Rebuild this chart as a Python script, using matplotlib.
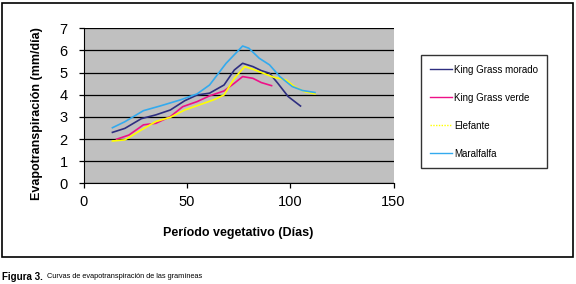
import matplotlib.pyplot as plt
from matplotlib.patches import Rectangle
from matplotlib.lines import Line2D

# data
morado_x = [14, 20, 28, 35, 42, 49, 55, 61, 68, 73, 77, 82, 86, 90, 94, 99, 105]
morado_y = [2.30, 2.48, 2.92, 3.09, 3.31, 3.73, 3.99, 4.07, 4.44, 5.12, 5.42, 5.27, 5.09, 4.97, 4.52, 3.92, 3.49]

verde_x = [16, 22, 29, 35, 42, 48, 55, 61, 68, 73, 77, 82, 86, 91]
verde_y = [1.99, 2.18, 2.64, 2.71, 3.01, 3.46, 3.69, 3.95, 4.17, 4.52, 4.82, 4.74, 4.55, 4.41]

elefante_x = [14, 20, 28, 35, 42, 49, 56, 63, 68, 73, 78, 82, 87, 92, 98, 102, 107, 112]
elefante_y = [1.91, 1.96, 2.41, 2.79, 2.98, 3.31, 3.54, 3.77, 3.99, 4.74, 5.27, 5.15, 4.97, 4.79, 4.67, 4.37, 4.14, 4.04]

maralfalfa_x = [14, 20, 29, 37, 47, 55, 61, 69, 77, 80, 85, 90, 95, 101, 106, 112]
maralfalfa_y = [2.51, 2.78, 3.28, 3.49, 3.77, 4.04, 4.44, 5.42, 6.20, 6.10, 5.65, 5.35, 4.82, 4.37, 4.19, 4.10]

labels = ["King Grass morado", "King Grass verde", "Elefante", "Maralfalfa"]
colors = ["#2e2e80", "#ee1188", "#ffff00", "#33aaee"]

W, H = 576, 284
fig = plt.figure(figsize=(W / 100, H / 100), dpi=100)
fig.patch.set_facecolor("white")

# outer frame
fig.patches.append(Rectangle((1.5 / W, 27 / H), 571 / W, 254.5 / H,
                             transform=fig.transFigure, fill=False,
                             edgecolor="black", linewidth=1.2))

ax = fig.add_axes([83.5 / W, 100.7 / H, 310 / W, 155 / H])
ax.set_facecolor("#c0c0c0")

series = [(morado_x, morado_y), (verde_x, verde_y),
          (elefante_x, elefante_y), (maralfalfa_x, maralfalfa_y)]
for (xs, ys), c in zip(series, colors):
    ax.plot(xs, ys, color=c, linewidth=1.2)

ax.set_xlim(0, 150)
ax.set_ylim(0, 7)
ax.set_xticks([0, 50, 100, 150])
ax.set_yticks(range(0, 8))
ax.grid(axis="y", color="black", linewidth=0.9)
ax.set_axisbelow(True)
for s in ["top", "right"]:
    ax.spines[s].set_visible(False)
ax.tick_params(direction="out", length=3.5, width=0.9, labelsize=10.5,
               colors="black")
ax.tick_params(axis="y", pad=8)
ax.tick_params(axis="x", pad=5)
for lab in ax.get_xticklabels() + ax.get_yticklabels():
    lab.set_family("Liberation Sans")

fig.text(37.5 / W, 1 - 114 / H, "Evapotranspiración (mm/día)", rotation=90,
         ha="center", va="center", fontsize=9, fontweight="bold",
         family="Liberation Sans")
fig.text(238 / W, 1 - 233 / H, "Período vegetativo (Días)",
         ha="center", va="center", fontsize=9, fontweight="bold",
         family="Liberation Sans")

fig.text(2 / W, 1 - 277 / H, "Figura 3.", ha="left", va="center",
         fontsize=7, fontweight="bold", family="Liberation Sans")
fig.text(47 / W, 1 - 277 / H, "Curvas de evapotranspiración de las gramíneas",
         ha="left", va="center", fontsize=5.3, family="Liberation Sans")

handles = [Line2D([], [], color=c, linewidth=1.0) for c in colors]
handles[2] = Line2D([], [], color=colors[2], linewidth=1.0, linestyle=(0, (1, 1)))
leg = fig.legend(handles, labels, loc="upper left",
                 bbox_to_anchor=(420.7 / W, 1 - 55 / H), borderaxespad=0,
                 handlelength=2.2, handletextpad=0.2,
                 labelspacing=1.85, borderpad=1.0, frameon=True, fancybox=False,
                 prop={"family": "Liberation Sans", "size": 7})
leg.get_frame().set_edgecolor("black")
leg.get_frame().set_linewidth(1.0)

fig.savefig("out.png", dpi=100)
